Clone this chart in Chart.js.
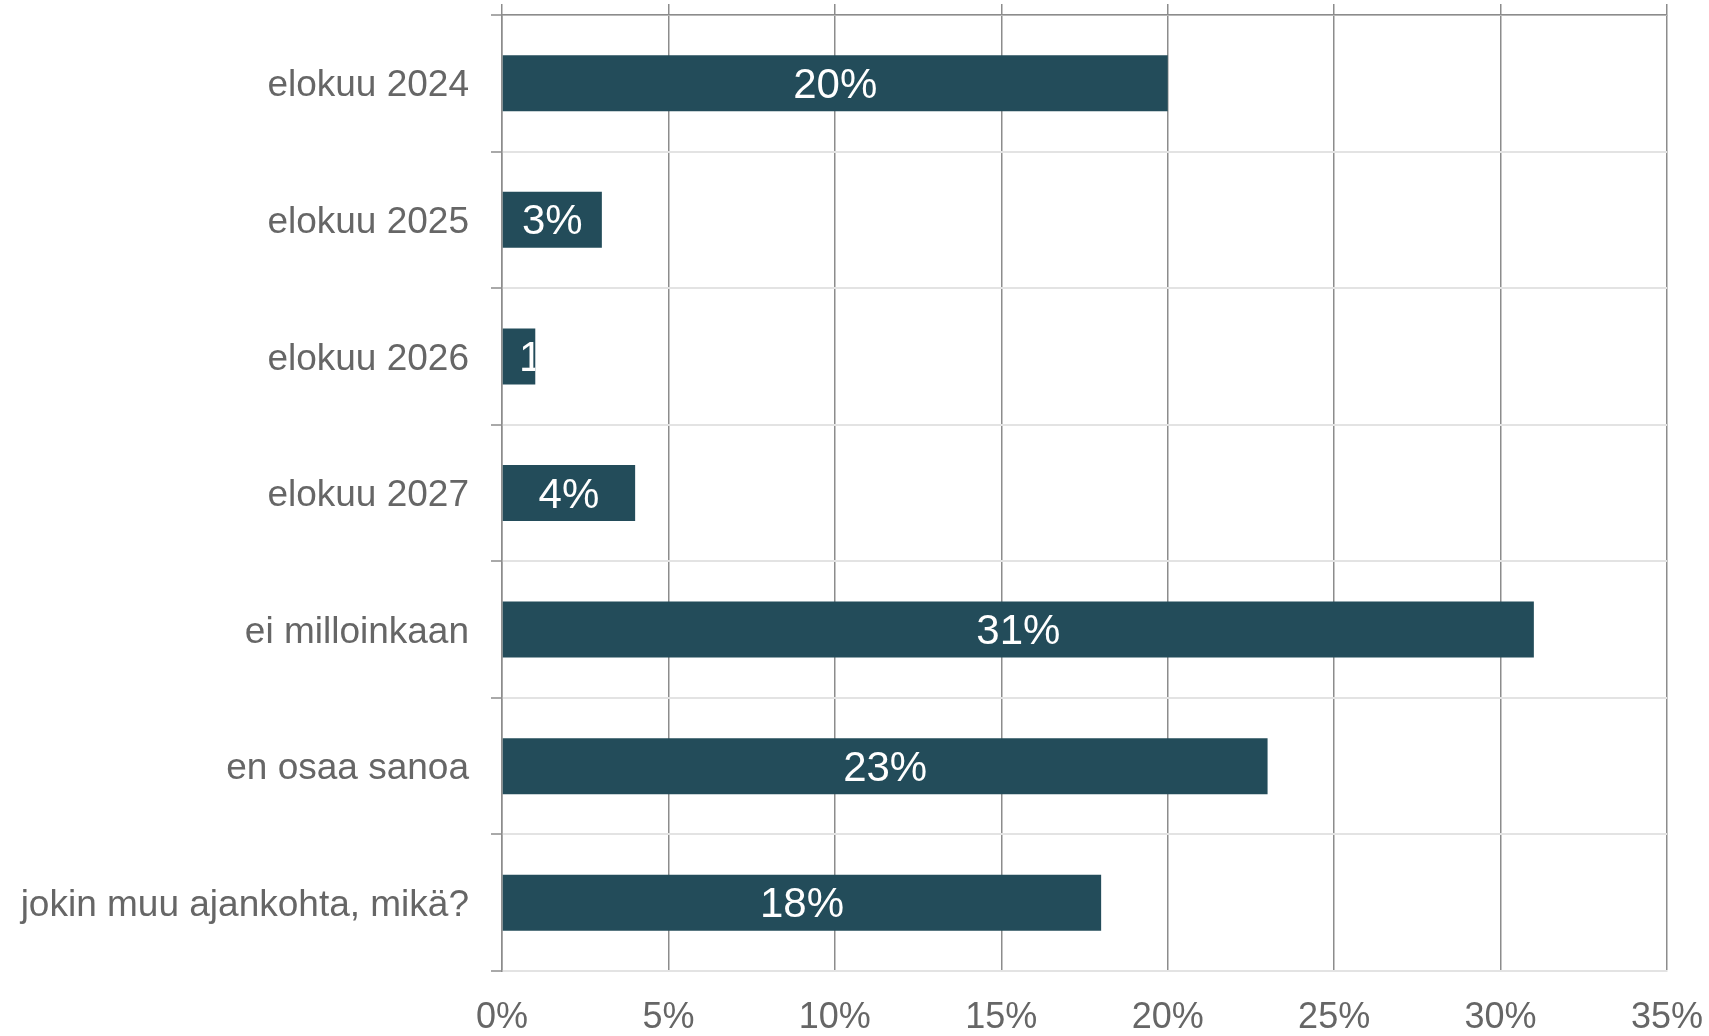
<!DOCTYPE html>
<html>
<head>
<meta charset="utf-8">
<script src="https://cdn.jsdelivr.net/npm/chart.js@4/dist/chart.umd.min.js"></script>
<style>
  html, body { margin: 0; padding: 0; background: #fff; }
  #wrap { width: 1709px; height: 1036px; }
</style>
</head>
<body>
<div id="wrap"><canvas id="ajankohta-chart" width="1709" height="1036"></canvas></div>
<script>
var categories = ['elokuu 2024', 'elokuu 2025', 'elokuu 2026', 'elokuu 2027', 'ei milloinkaan', 'en osaa sanoa', 'jokin muu ajankohta, mikä?'];
var shares = [20, 3, 1, 4, 31, 23, 18];
var axisMax = 35;
var axisStep = 5;

var barColor = '#234c5a';
var darkLine = '#8c8c8c';
var lightLine = '#e3e3e3';
var textGray = '#666666';
var fontFamily = '"Liberation Sans", Arial, Helvetica, sans-serif';

// white value labels inside bars; if it doesn't fit, start at the middle and clip to the bar
var barLabels = {
  id: 'barLabels',
  afterDatasetsDraw: function(chart) {
    var ctx = chart.ctx;
    var meta = chart.getDatasetMeta(0);
    ctx.save();
    ctx.font = '42px ' + fontFamily;
    ctx.fillStyle = '#ffffff';
    ctx.textBaseline = 'middle';
    meta.data.forEach(function(bar, i) {
      var text = shares[i] + '%';
      var left = Math.min(bar.base, bar.x);
      var width = Math.abs(bar.x - bar.base);
      var mid = left + width / 2;
      var w = ctx.measureText(text).width;
      ctx.save();
      ctx.beginPath();
      ctx.rect(left, bar.y - bar.height / 2, width, bar.height);
      ctx.clip();
      if (w + 6 <= width) {
        ctx.textAlign = 'center';
      } else {
        ctx.textAlign = 'left';
      }
      ctx.fillText(text, mid, bar.y + 3);
      ctx.restore();
    });
    ctx.restore();
  }
};

var chart = new Chart(document.getElementById('ajankohta-chart'), {
  type: 'bar',
  data: {
    labels: categories,
    datasets: [{
      data: shares,
      backgroundColor: barColor,
      borderWidth: 0,
      barPercentage: 0.41,
      categoryPercentage: 1
    }]
  },
  plugins: [barLabels],
  options: {
    indexAxis: 'y',
    responsive: false,
    animation: false,
    devicePixelRatio: 1,
    layout: { padding: { top: 4, right: 42, bottom: 0, left: 0 } },
    plugins: {
      legend: { display: false },
      tooltip: { enabled: false }
    },
    scales: {
      x: {
        position: 'bottom',
        min: 0,
        max: axisMax,
        ticks: {
          stepSize: axisStep,
          padding: 25,
          color: textGray,
          font: { family: fontFamily, size: 36 },
          callback: function(value) { return value + '%'; }
        },
        grid: { color: darkLine, lineWidth: 1.5, drawTicks: false },
        border: { color: lightLine, width: 2 },
        afterFit: function(scale) {
          scale.height = 65;
          scale.paddingLeft = 0;
          scale.paddingRight = 0;
        }
      },
      xTop: {
        axis: 'x',
        position: 'top',
        min: 0,
        max: axisMax,
        ticks: { stepSize: axisStep, display: false },
        grid: { drawOnChartArea: false, tickLength: 11, tickColor: darkLine, lineWidth: 1.5 },
        border: { color: darkLine, width: 1.5 },
        afterFit: function(scale) {
          scale.height = 11;
          scale.paddingLeft = 0;
          scale.paddingRight = 0;
        }
      },
      y: {
        ticks: {
          padding: 22,
          labelOffset: 3,
          color: textGray,
          font: { family: fontFamily, size: 37 }
        },
        grid: { offset: true, color: lightLine, lineWidth: 2, tickLength: 11, tickColor: darkLine, tickWidth: 1.5 },
        border: { color: darkLine, width: 1.5 },
        afterFit: function(scale) {
          scale.width = 502;
          scale.paddingTop = 0;
          scale.paddingBottom = 0;
        }
      }
    }
  }
});
</script>
</body>
</html>
